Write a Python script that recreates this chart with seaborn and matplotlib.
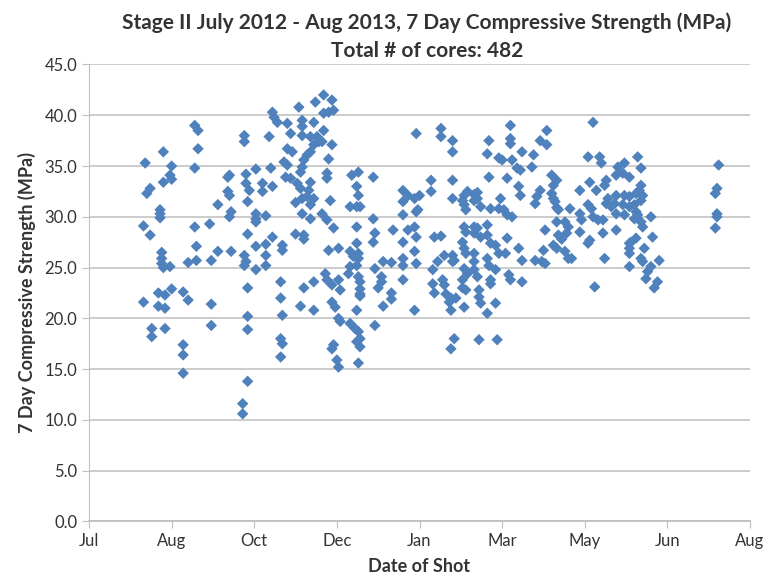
import pandas as pd
import seaborn as sns
import matplotlib.pyplot as plt
import matplotlib.dates as mdates

# shot date as days after 2012-07-10, and 7 day strength (MPa)
shot_day = [
    45, 34, 50, 49, 50, 45, 37, 35, 43, 43, 43, 33, 37, 44, 44, 44, 45, 49, 60, 50,
    42, 46, 33, 57, 42, 46, 60, 38, 38, 46, 57, 57, 57,
    64, 66, 94, 94, 109, 66, 64, 85, 84, 95, 101, 110, 95, 97, 105, 111, 105, 84, 85,
    96, 78, 86, 85, 101, 101, 101, 107, 64, 73, 96, 111, 65, 101, 107, 78, 86, 65, 74,
    94, 95, 94, 101, 107, 107, 96, 74, 74, 96, 96, 96, 93, 93,
    142, 137, 147, 148, 145, 142, 127, 111, 112, 114, 120, 129, 129, 136, 122, 129, 134,
    138, 142, 141, 139, 136, 147, 120, 123, 134, 132, 130, 145, 118, 120, 129, 128, 144,
    144, 159, 119, 122, 126, 128, 134, 133, 162, 132, 129, 136, 125, 134, 146, 158, 162,
    129, 134, 141, 144, 162, 125, 130, 130, 148, 117, 117, 145, 151, 158, 160, 162, 158,
    157, 162, 116, 136, 130, 143, 144, 147, 151, 152, 116, 128, 136, 147, 149, 117, 151,
    152, 158, 161, 116, 117, 148, 147, 162, 116, 150, 151, 163,
    198, 213, 213, 163, 172, 207, 207, 190, 190, 193, 197, 200, 199, 198, 163, 164, 190,
    172, 184, 193, 197, 173, 172, 198, 209, 213, 190, 163, 163, 197, 178, 183, 190, 190,
    198, 211, 208, 173, 163, 164, 164, 164, 164, 190, 177, 175, 177, 183, 183, 208, 209,
    178, 197, 162, 173, 163, 164, 164,
    255, 255, 255, 220, 220, 242, 241, 248, 250, 262, 256, 259, 261, 242, 220, 253, 260,
    261, 227, 226, 229, 233, 235, 233, 235, 227, 228, 237, 220, 249, 248, 251, 253, 256,
    243, 227, 228, 233, 235, 233, 237, 241, 241, 243, 226, 227, 228, 215, 220, 220, 221,
    246, 248, 252, 253, 260, 262, 233, 233, 241, 242, 227, 229, 226, 228, 226, 233, 235,
    246, 243, 243, 254, 255, 262, 214, 215, 216, 218, 219, 219, 222, 227, 236, 236, 237,
    241, 246, 221, 219, 236, 247,
    305, 277, 273, 277, 302, 309, 310, 269, 268, 280, 283, 281, 303, 313, 312, 273, 271,
    270, 280, 281, 282, 283, 284, 297, 307, 314, 313, 316, 302, 304, 291, 297, 298, 305,
    308, 311, 283, 288, 290, 276, 297, 284, 289, 286, 311, 303, 302, 281, 283, 275, 288,
    290, 292, 270, 274, 276, 312, 306,
    332, 324, 320, 334, 323, 319, 327, 334, 333, 319, 324, 327, 331, 335, 334, 318, 323,
    327, 330, 331, 332, 319, 324, 330, 334, 340, 319, 335, 331, 328, 327, 341, 327, 327,
    336, 334, 335, 345, 340, 338, 327, 337, 344, 342,
    381, 380, 379, 380, 380, 379,
]
strength = [
    36.4, 35.3, 35.0, 34.1, 33.7, 33.4, 32.8, 32.3, 30.7, 30.3, 29.9, 29.1, 28.2, 26.5, 25.9, 25.4, 25.0, 25.1, 25.5, 22.9,
    22.5, 22.3, 21.6, 22.6, 21.2, 21.0, 21.8, 19.0, 18.2, 19.0, 17.4, 16.4, 14.6,
    39.0, 38.5, 38.0, 37.4, 37.9, 36.7, 34.8, 34.1, 33.9, 34.2, 34.7, 34.8, 33.3, 32.6, 33.3, 33.0, 32.5, 32.5, 32.1,
    31.5, 31.2, 30.5, 30.0, 30.3, 29.8, 29.5, 30.1, 29.0, 29.3, 28.3, 28.0, 27.1, 27.1, 27.3, 26.6, 26.6, 25.7, 25.7,
    26.2, 25.6, 25.2, 24.8, 26.2, 25.2, 23.0, 21.4, 19.3, 20.2, 18.9, 13.8, 11.6, 10.6,
    42.0, 41.3, 41.5, 40.5, 40.3, 40.2, 40.8, 40.3, 39.8, 39.3, 39.2, 39.5, 38.9, 39.3, 38.2, 38.0, 37.9,
    37.9, 38.5, 37.4, 37.4, 37.1, 37.1, 36.7, 36.4, 36.4, 36.1, 35.6, 35.7, 35.4, 35.1, 34.9, 34.4, 34.3,
    33.8, 34.1, 33.9, 33.8, 33.3, 32.8, 33.4, 32.6, 33.0, 32.0, 31.8, 31.8, 31.4, 31.2, 31.6, 31.0, 31.0,
    30.3, 29.8, 30.3, 29.7, 29.0, 28.3, 28.2, 27.8, 28.9, 27.2, 26.7, 26.7, 26.9, 26.6, 26.1, 27.4, 25.1,
    24.4, 25.2, 23.6, 23.6, 23.0, 24.4, 23.8, 23.3, 23.8, 22.8, 22.0, 21.2, 20.8, 21.6, 21.1, 20.3, 20.0,
    19.7, 19.5, 19.0, 18.0, 17.5, 17.4, 17.0, 17.7, 16.2, 15.9, 15.2, 15.6,
    38.2, 38.7, 37.9, 34.4, 33.9, 33.6, 32.5, 32.6, 31.5, 32.1, 31.8, 32.1, 30.7, 30.5, 32.1, 31.0, 30.2,
    29.8, 28.7, 28.7, 29.0, 28.4, 27.5, 28.0, 28.0, 28.1, 27.5, 26.4, 25.9, 26.6, 25.6, 25.5, 25.9, 25.2,
    25.4, 25.6, 24.8, 24.9, 24.1, 23.6, 22.9, 22.4, 22.2, 23.8, 24.1, 23.0, 23.6, 22.5, 21.9, 23.4, 22.5,
    21.2, 20.8, 20.8, 19.3, 18.7, 18.0, 17.2,
    39.0, 37.7, 37.2, 37.5, 36.4, 37.5, 36.2, 35.8, 35.6, 36.4, 35.6, 34.8, 34.6, 33.9, 33.6, 33.8, 33.0,
    32.1, 32.1, 31.6, 32.5, 32.2, 32.4, 31.6, 31.8, 31.2, 30.7, 31.0, 31.8, 31.8, 30.8, 30.7, 30.2, 30.0,
    30.8, 29.0, 28.5, 29.0, 28.9, 28.4, 28.0, 29.2, 28.2, 27.4, 27.5, 26.9, 26.4, 26.2, 26.2, 25.6, 25.7,
    27.2, 26.4, 26.4, 27.9, 26.9, 25.7, 26.4, 25.6, 25.9, 25.2, 24.9, 24.4, 23.8, 22.8, 23.0, 24.8, 24.1,
    24.8, 23.8, 23.4, 24.3, 23.8, 23.6, 23.8, 23.3, 22.4, 21.6, 20.8, 22.0, 22.0, 21.1, 22.8, 22.1, 21.5,
    20.5, 21.5, 18.0, 17.0, 17.9, 17.9,
    39.3, 38.5, 37.5, 37.1, 35.9, 35.9, 35.3, 36.1, 34.9, 34.1, 33.6, 33.1, 33.4, 33.6, 33.1, 32.6, 32.0,
    31.3, 32.3, 31.8, 31.5, 30.9, 30.7, 32.6, 32.6, 31.8, 31.3, 31.0, 31.2, 30.8, 30.8, 30.3, 29.7, 30.0,
    29.7, 29.7, 29.5, 29.5, 29.0, 28.7, 28.5, 28.2, 28.4, 27.8, 28.4, 27.7, 27.4, 27.2, 26.9, 26.7, 26.6,
    25.9, 25.9, 25.7, 25.6, 25.4, 25.9, 23.1,
    35.9, 35.3, 34.9, 34.8, 34.3, 34.1, 33.9, 33.1, 32.6, 32.1, 32.1, 32.0, 32.3, 32.1, 31.6, 31.3, 31.2,
    31.0, 31.2, 30.5, 30.2, 30.3, 30.2, 29.8, 29.5, 30.0, 28.7, 29.0, 27.9, 27.5, 27.4, 28.0, 26.9, 26.4,
    26.9, 25.9, 25.6, 25.7, 25.1, 24.6, 25.1, 23.9, 23.6, 23.0,
    35.1, 32.8, 32.3, 30.3, 30.0, 28.9,
]

start = pd.Timestamp('2012-07-10')
df = pd.DataFrame({'day': shot_day, 'strength': strength})
df['date'] = start + pd.to_timedelta(df['day'], unit='D')

sns.set_style('white')
plt.rcParams['font.family'] = ['Lato', 'DejaVu Sans']

fig = plt.figure(figsize=(7.73, 5.82), dpi=100)
ax = fig.add_axes([0.1151, 0.1040, 0.8552, 0.7852])

sns.scatterplot(x='date', y='strength', data=df, ax=ax, marker='D', s=34,
                color='#4F81BD', edgecolor='none', linewidth=0, zorder=3)

ax.set_ylim(0, 45)
ax.set_yticks(range(0, 46, 5))
ax.set_yticklabels(['%.1f' % v for v in range(0, 46, 5)])
ax.set_xlim(start, start + pd.Timedelta(days=400))
ax.set_xticks(pd.date_range(start, periods=9, freq='50D'))
ax.xaxis.set_major_formatter(mdates.DateFormatter('%b'))

ax.grid(axis='y', color='#C8C8C8', linewidth=1.3)
ax.grid(axis='x', visible=False)
ax.set_axisbelow(True)
for side in ['top', 'right']:
    ax.spines[side].set_visible(False)
ax.spines['left'].set_color('#BFBFBF')
ax.spines['bottom'].set_color('#BFBFBF')
ax.spines['bottom'].set_linewidth(1.3)
ax.tick_params(axis='both', colors='#BFBFBF', labelcolor='#333333', labelsize=12,
               length=5, direction='out', left=True, bottom=True)

ax.set_xlabel('Date of Shot', fontsize=13, fontweight='bold', color='#333333', labelpad=6)
ax.set_ylabel('7 Day Compressive Strength (MPa)', fontsize=13, fontweight='bold',
              color='#333333', labelpad=6)
fig.suptitle('Stage II July 2012 - Aug 2013, 7 Day Compressive Strength (MPa)\nTotal # of cores: 482',
             x=0.552, y=0.978, fontsize=15, fontweight='bold', color='#333333', linespacing=1.45)

fig.savefig('out.png', dpi=100)
